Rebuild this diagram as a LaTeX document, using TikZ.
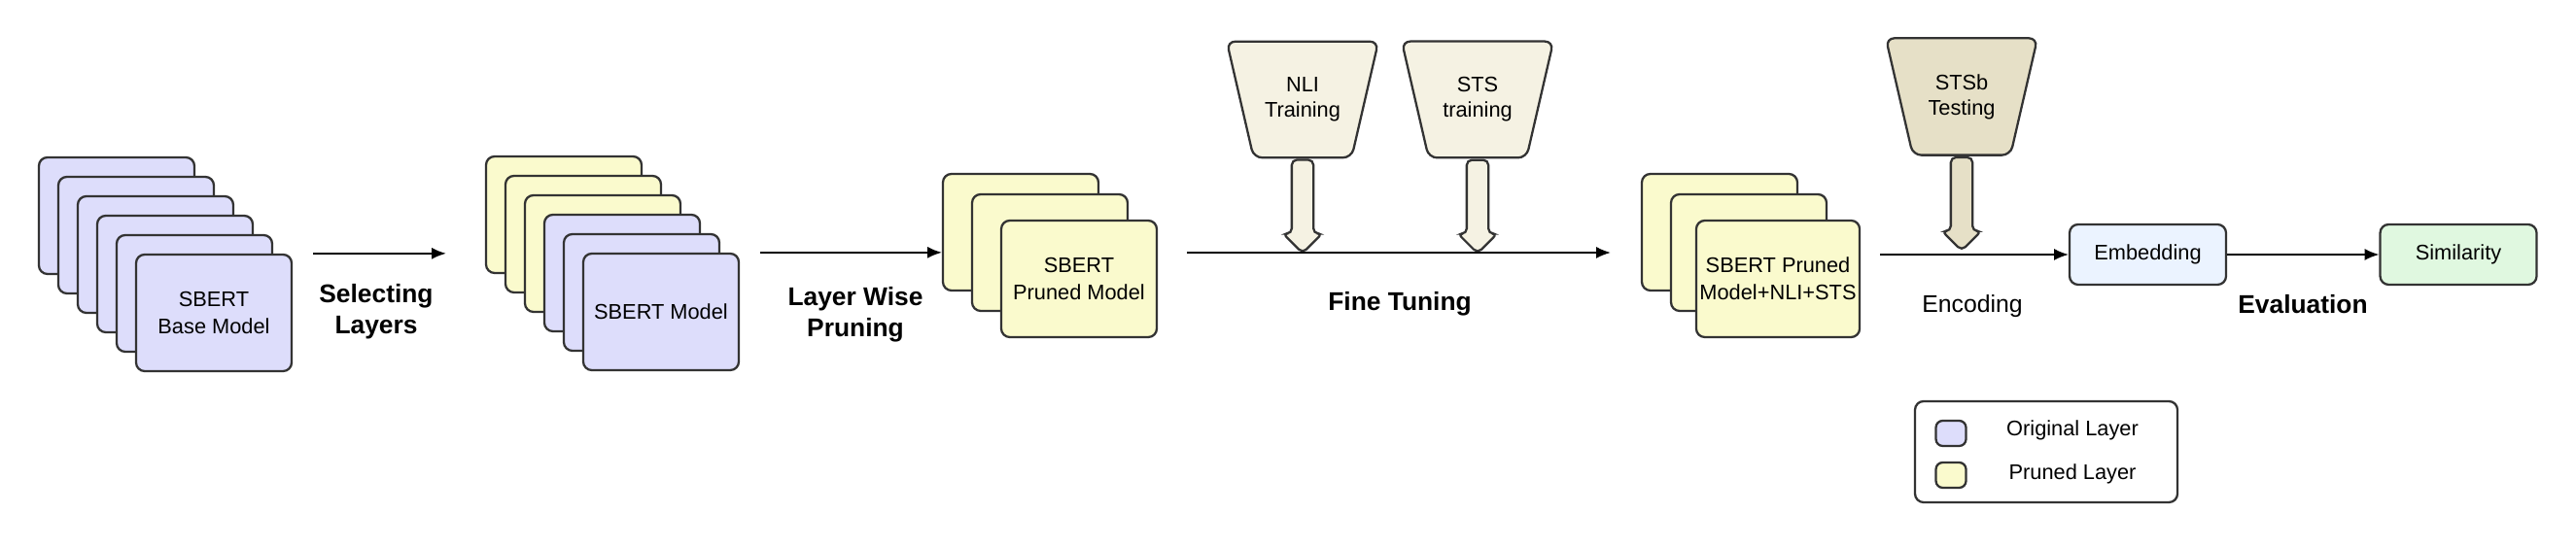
\documentclass[tikz,border=0pt]{standalone}
\usepackage{fontspec}
\setmainfont{Liberation Sans}
\usetikzlibrary{shapes.geometric, shapes.arrows, arrows.meta, positioning}

\definecolor{origfill}{RGB}{221,221,251}
\definecolor{prunedfill}{RGB}{250,250,205}
\definecolor{datafill}{RGB}{245,242,227}
\definecolor{testfill}{RGB}{230,224,199}
\definecolor{embedfill}{RGB}{235,243,255}
\definecolor{simfill}{RGB}{224,248,224}
\definecolor{edgegray}{RGB}{51,51,51}

\begin{document}
\begin{tikzpicture}[
        layer/.style={rectangle, rounded corners=2.5pt, draw=edgegray, line width=0.65pt, align=center, minimum width=1.6cm, minimum height=1.2cm, inner sep=1pt, font=\fontsize{6.2}{8}\selectfont},
        orig/.style={layer, fill=origfill},
        pruned/.style={layer, fill=prunedfill},
        dataset/.style={trapezium, trapezium left angle=103, trapezium right angle=103, trapezium stretches body=true, draw=edgegray, line width=0.65pt, rounded corners=2.5pt, align=center, minimum width=1.56cm, inner xsep=0pt, inner ysep=0.37cm, font=\fontsize{6.2}{7.4}\selectfont},
        feed/.style={single arrow, single arrow head extend=0.09cm, draw=edgegray, line width=0.65pt, rounded corners=1.5pt, rotate=-90, anchor=tail, minimum height=0.96cm, inner xsep=0pt, inner ysep=0.1cm},
        result/.style={rectangle, rounded corners=2.5pt, draw=edgegray, line width=0.65pt, align=center, minimum width=1.61cm, minimum height=0.62cm, font=\fontsize{6.2}{8}\selectfont},
        phase/.style={align=center, font=\bfseries\fontsize{7.5}{9.1}\selectfont},
        legendtext/.style={font=\fontsize{6.2}{8}\selectfont},
        arrow/.style={-{Latex[length=4.2pt, width=3.4pt]}, line width=0.45pt}
    ]
    \useasboundingbox (0,0) rectangle (26.5,5.64);

    % Stage 1: SBERT base model (all original layers)
    \node[orig] (a1) at (1.20,3.42) {};
    \node[orig] (a2) at (1.40,3.22) {};
    \node[orig] (a3) at (1.60,3.02) {};
    \node[orig] (a4) at (1.80,2.82) {};
    \node[orig] (a5) at (2.00,2.62) {};
    \node[orig] (a6) at (2.20,2.42) {SBERT \\ Base Model};

    % Stage 2: layers selected for pruning
    \node[pruned] (b1) at (5.80,3.43) {};
    \node[pruned] (b2) at (6.00,3.23) {};
    \node[pruned] (b3) at (6.20,3.03) {};
    \node[orig] (b4) at (6.40,2.83) {};
    \node[orig] (b5) at (6.60,2.63) {};
    \node[orig] (b6) at (6.80,2.43) {SBERT Model};

    % Stage 3: pruned model
    \node[pruned] (c1) at (10.50,3.25) {};
    \node[pruned] (c2) at (10.80,3.04) {};
    \node[pruned] (c3) at (11.10,2.77) {SBERT \\ Pruned Model};

    % Training data for fine tuning
    \node[dataset, fill=datafill] (nli) at (13.40,4.615) {NLI \\ Training};
    \node[dataset, fill=datafill] (sts) at (15.20,4.615) {STS \\ training};
    \node[feed, fill=datafill] (nlifeed) at (nli.south) {};
    \node[feed, fill=datafill] (stsfeed) at (sts.south) {};

    % Stage 4: fine tuned model
    \node[pruned] (d1) at (17.69,3.25) {};
    \node[pruned] (d2) at (17.99,3.04) {};
    \node[pruned] (d3) at (18.29,2.77) {SBERT Pruned \\ Model+NLI+STS};

    % Test data
    \node[dataset, fill=testfill] (stsb) at (20.18,4.645) {STSb \\ Testing};
    \node[feed, fill=testfill] (stsbfeed) at (stsb.south) {};

    % Stage 5: evaluation
    \node[result, fill=embedfill] (emb) at (22.095,3.02) {Embedding};
    \node[result, fill=simfill] (sim) at (25.29,3.02) {Similarity};

    % Phase labels
    \node[phase] (select) at (3.87,2.43) {Selecting \\ Layers};
    \node[phase] (prune) at (8.80,2.40) {Layer Wise \\ Pruning};
    \node[phase] (tune) at (14.40,2.51) {Fine Tuning};
    \node[font=\fontsize{7.05}{8.5}\selectfont] (encode) at (20.29,2.49) {Encoding};
    \node[phase] (evaluate) at (23.69,2.51) {Evaluation};

    % Connecting arrows
    \draw[arrow, shorten <=0.21cm, shorten >=0.40cm] (a6.north east) -- (a6.north east -| b1.west);
    \draw[arrow, shorten <=0.21cm] (b6.north east) -- (b6.north east -| c1.west);
    \draw[arrow, shorten <=0.30cm, shorten >=0.31cm] (c2.center -| c3.east) -- (c2.center -| d1.west);
    \draw[arrow, shorten <=0.20cm] (emb.west -| d3.east) -- (emb.west);
    \draw[arrow] (emb.east) -- (sim.west);

    % Legend
    \node[rectangle, rounded corners=2.5pt, draw=edgegray, line width=0.65pt, fill=white, minimum width=2.7cm, minimum height=1.04cm] (legend) at (21.05,0.99) {};
    \node[rectangle, rounded corners=2pt, draw=edgegray, line width=0.65pt, fill=origfill, minimum width=0.31cm, minimum height=0.26cm] (origkey) at (20.07,1.18) {};
    \node[rectangle, rounded corners=2pt, draw=edgegray, line width=0.65pt, fill=prunedfill, minimum width=0.31cm, minimum height=0.26cm] (prunedkey) at (20.07,0.75) {};
    \node[legendtext] (origtext) at (21.32,1.21) {Original Layer};
    \node[legendtext] (prunedtext) at (21.32,0.76) {Pruned Layer};

\end{tikzpicture}
\end{document}
